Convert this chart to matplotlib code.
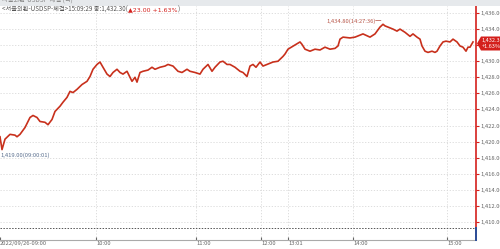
import matplotlib.pyplot as plt
from matplotlib.patches import Polygon, Rectangle

plt.rcParams['font.family'] = ['Noto Sans CJK KR', 'DejaVu Sans']

# trace position (left to right) and price
pos = [0, 2, 5, 10, 15, 17, 20, 25, 30, 33, 37, 40, 45, 48, 52, 55, 60, 63, 67, 70,
       73, 77, 82, 87, 90, 93, 97, 100, 103, 107, 110, 113, 117, 120, 123, 127, 132,
       135, 137, 140, 143, 148, 152, 155, 160, 165, 168, 173, 178, 182, 187, 190, 195,
       200, 203, 208, 212, 215, 220, 223, 227, 230, 235, 240, 243, 247, 250, 253, 256,
       260, 263, 267, 273, 278, 283, 285, 288, 300, 302, 305, 310, 315, 320, 325, 330,
       335, 338, 340, 343, 350, 355, 360, 363, 370, 375, 380, 383, 385, 388, 393, 397,
       400, 405, 410, 413, 417, 420, 422, 425, 428, 432, 435, 437, 440, 443, 446, 450,
       453, 457, 460, 463, 466, 468, 470, 473]
price = [1420.6, 1419.0, 1420.3, 1420.9, 1420.8, 1420.6, 1420.9, 1421.75, 1423.0,
         1423.25, 1423.0, 1422.5, 1422.4, 1422.1, 1422.75, 1423.75, 1424.4, 1424.9,
         1425.5, 1426.25, 1426.1, 1426.5, 1427.1, 1427.5, 1428.1, 1429.0, 1429.6,
         1429.9, 1429.25, 1428.4, 1428.1, 1428.6, 1429.0, 1428.6, 1428.4, 1428.75,
         1427.5, 1428.0, 1427.4, 1428.6, 1428.75, 1428.9, 1429.25, 1429.0, 1429.25,
         1429.4, 1429.6, 1429.4, 1428.75, 1428.6, 1429.0, 1428.75, 1428.6, 1428.4,
         1429.0, 1429.6, 1428.75, 1429.25, 1429.9, 1430.0, 1429.6, 1429.6, 1429.25,
         1428.75, 1428.6, 1428.1, 1429.4, 1429.6, 1429.25, 1429.9, 1429.4, 1429.6,
         1429.9, 1430.0, 1430.6, 1430.9, 1431.5, 1432.4, 1432.1, 1431.5, 1431.25,
         1431.5, 1431.4, 1431.75, 1431.5, 1431.6, 1431.9, 1432.75, 1433.0, 1432.9,
         1433.0, 1433.25, 1433.4, 1433.0, 1433.4, 1434.25, 1434.6, 1434.4, 1434.25,
         1434.0, 1433.75, 1434.0, 1433.6, 1433.1, 1433.4, 1433.0, 1432.75, 1431.9,
         1431.25, 1431.1, 1431.25, 1431.1, 1431.25, 1431.9, 1432.4, 1432.5, 1432.4,
         1432.75, 1432.4, 1431.9, 1431.75, 1431.25, 1431.75, 1431.75, 1432.4]

tick_pos = [0, 96, 196, 261, 288, 353, 447]
tick_lab = ['2022/09/26-09:00', '10:00', '11:00', '12:00', '13:01', '14:00', '15:00']
y_ticks = [1410, 1412, 1414, 1416, 1418, 1420, 1422, 1424, 1426, 1428, 1430, 1432, 1434, 1436]
prev_close = 1409.3
last = 1432.30
hi_lab = '1,434.80(14:27:36)'
lo_lab = '1,419.00(09:00:01)'

FS = 4.2

fig = plt.figure(figsize=(5, 2.49), dpi=100, facecolor='white')
ax = fig.add_axes([0, 9 / 249, 476 / 500, 1 - 15 / 249])
ax.set_xlim(0, 476)
ax.set_ylim(1407.75, 1436.875)

# grid
for v in y_ticks:
    ax.axhline(v, color='#d8d8d8', lw=0.6, ls=(0, (1.5, 2)), zorder=0)
for p in tick_pos[1:]:
    ax.axvline(p, color='#d8d8d8', lw=0.6, ls=(0, (1.5, 2)), zorder=0)
ax.axhline(prev_close, color='#555555', lw=0.7, ls=(0, (1.5, 1.5)), zorder=1)

ax.plot(pos, price, color='#c8301c', lw=1.2, zorder=3)

for s in ['top', 'left']:
    ax.spines[s].set_visible(False)
ax.spines['bottom'].set_color('#aaaaaa')
ax.spines['bottom'].set_linewidth(0.8)
ax.spines['right'].set_color('#d4201c')
ax.spines['right'].set_linewidth(1.2)
ax.plot([476, 476], [1407.75, prev_close], color='#2a4f9a', lw=1.4,
        clip_on=False, zorder=5)

ax.set_xticks(tick_pos)
ax.set_xticklabels(tick_lab)
ax.tick_params(axis='x', length=2, pad=1, labelsize=FS, colors='#666666', direction='in')
for lab in ax.get_xticklabels():
    lab.set_horizontalalignment('left')
ax.get_xticklabels()[0].set_x(-3)

ax.yaxis.tick_right()
ax.set_yticks(y_ticks)
# 1,432.00 is hidden behind the last-price tag
ax.set_yticklabels(['' if v == 1432 else f'{v:,.2f}' for v in y_ticks])
ax.tick_params(axis='y', length=2, pad=1, labelsize=FS, colors='#666666')
ax.tick_params(axis='y', color='#d4201c')

# high / low annotations
ax.text(382, 1434.6, hi_lab + '─', color='#b8574a', fontsize=FS, ha='right', va='bottom')
ax.text(0.5, 1418.3, lo_lab, color='#5a6f8e', fontsize=FS, ha='left', va='center')

# header
fig.patches.append(Rectangle((0, 1 - 6 / 249), 1, 6 / 249, transform=fig.transFigure,
                             facecolor='#e6e9ec', edgecolor='none'))
fig.text(0.004, 1 - 1 / 249, '서울외환-USDSP-체결 (틱)', fontsize=4.5, color='#888888',
         ha='left', va='center')
t1 = fig.text(0.004, 1 - 10 / 249, '<서울외환-USDSP-체결>15:09:29 종:1,432.30(', fontsize=4.5,
              color='#555555', ha='left', va='center')
t2 = fig.text(0, 0, '▲23.00 +1.63%', fontsize=4.5, color='#d4201c', ha='left',
              va='center', family=['DejaVu Sans'])
t2.set_position((0, 0))
fig.canvas.draw()
r = fig.canvas.get_renderer()
bb = t1.get_window_extent(r).transformed(fig.transFigure.inverted())
t2.set_position((bb.x1, 1 - 10 / 249))
bb2 = t2.get_window_extent(r).transformed(fig.transFigure.inverted())
fig.text(bb2.x1, 1 - 10 / 249, ')', fontsize=4.5, color='#555555', ha='left', va='center')

# last price tag
x0 = 477 / 500
ty = 1 - 43.5 / 249
h = 7 / 249
fig.patches.append(Polygon([(x0, ty), (x0 + 0.008, ty + h), (1, ty + h), (1, ty - h),
                            (x0 + 0.008, ty - h)], closed=True, transform=fig.transFigure,
                           facecolor='#d4201c', edgecolor='none', zorder=10))
fig.text(x0 + 0.01, ty + h / 2, f'{last:,.2f}', fontsize=4, color='white',
         ha='left', va='center', zorder=11)
fig.text(x0 + 0.01, ty - h / 2, '+1.63%', fontsize=4, color='white',
         ha='left', va='center', zorder=11)

fig.savefig('out.png', dpi=100, facecolor='white')
